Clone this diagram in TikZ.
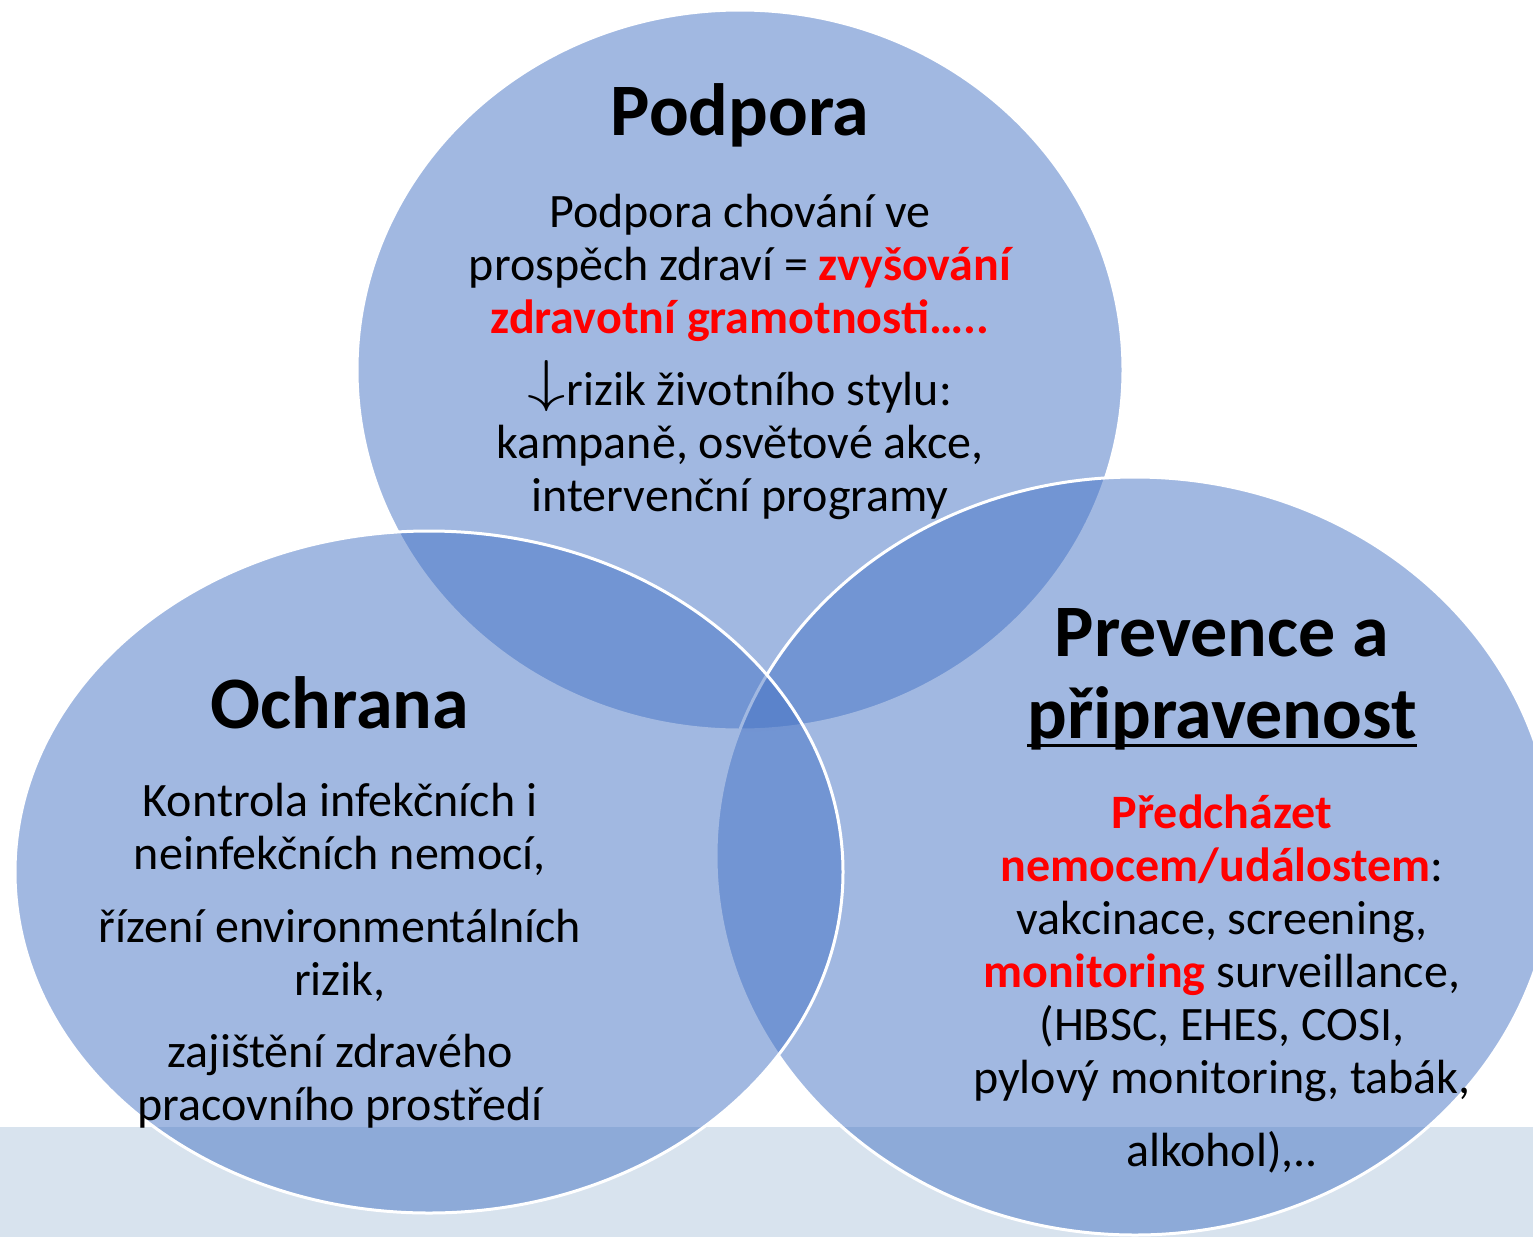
\RequirePackage{fix-cm}
\documentclass[tikz,border=0pt]{standalone}
\usepackage{fontspec}
\setmainfont{Carlito}
\usepackage{tikz}

\definecolor{vennblue}{HTML}{4472C4}
\definecolor{bandgray}{RGB}{216,227,238}
\definecolor{hlred}{HTML}{FF0000}
\newcommand{\zvyr}[1]{\textcolor{hlred}{\bfseries #1}}
\newcommand{\dolu}{\raisebox{5pt}[0pt][0pt]{\scalebox{1.6}[1.2]{$\downarrow$}}}
\newlength{\podtrhsirka}
\newcommand{\podtrh}[1]{\settowidth{\podtrhsirka}{#1}\rlap{\rule[-9pt]{\podtrhsirka}{3.5pt}}#1}

\begin{document}
\begin{tikzpicture}[x=1pt,y=1pt,
  venn/.style={fill=vennblue,fill opacity=0.5,draw=white,line width=3pt},
  head/.style={font=\fontsize{74}{82}\selectfont\bfseries,align=center},
  body/.style={font=\fontsize{48}{53}\selectfont,align=center}]
\useasboundingbox (0,0) rectangle (1533,-1237);
\fill[bandgray] (0,-1127) rectangle (1533,-1237);

% kruhy
\draw[venn] (740,-370) ellipse [x radius=383,y radius=360];
\draw[venn] (1135,-856) ellipse [x radius=419,y radius=379];
\draw[venn] (429,-872) ellipse [x radius=414,y radius=341];

% Podpora
\node[head] (podpora) at (740,-115) {Podpora};
\node[body] (podporaA) at (740,-268) {Podpora chování ve\\ prospěch zdraví = \zvyr{zvyšování}\\ \zvyr{zdravotní gramotnosti…..}};
\node[body] (podporaB) at (740,-446) {\dolu rizik životního stylu:\\ kampaně, osvětové akce,\\ intervenční programy};

% Ochrana
\node[head] (ochrana) at (340,-703) {Ochrana};
\node[body] (ochranaA) at (340,-829) {Kontrola infekčních i\\ neinfekčních nemocí,};
\node[body] (ochranaB) at (340,-955) {řízení environmentálních\\ rizik,};
\node[body] (ochranaC) at (340,-1081) {zajištění zdravého\\ pracovního prostředí};

% Prevence
\node[head] (prevence) at (1222,-679) {Prevence a\\ \podtrh{připravenost}};
\node[body] (prevenceA) at (1222,-948) {\zvyr{Předcházet}\\ \zvyr{nemocem/událostem}:\\ vakcinace, screening,\\ \zvyr{monitoring} surveillance,\\ (HBSC, EHES, COSI,\\ pylový monitoring, tabák,};
\node[body] (prevenceB) at (1222,-1152) {alkohol),..};
\end{tikzpicture}
\end{document}
